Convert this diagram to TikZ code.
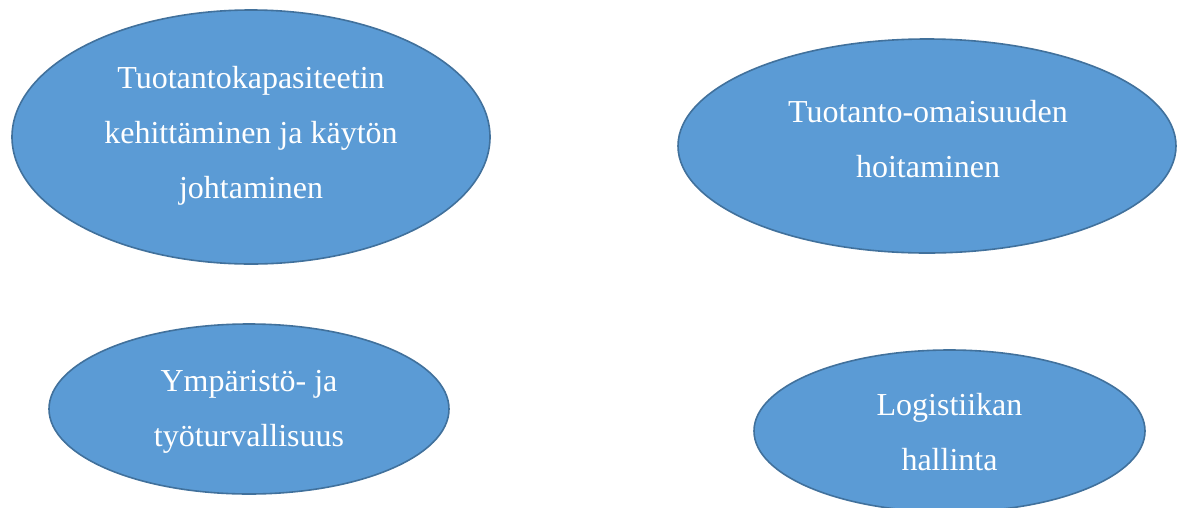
\documentclass[tikz,border=0pt]{standalone}
\usepackage{fontspec}
\setmainfont{Liberation Serif}
\usetikzlibrary{shapes.geometric}
\definecolor{blobfill}{HTML}{5B9BD5}
\definecolor{blobline}{HTML}{41719C}
\begin{document}
\begin{tikzpicture}[x=1pt,y=-1pt,
  blob/.style={ellipse, draw=blobline, fill=blobfill, line width=1.6pt, inner sep=0pt, outer sep=0pt},
  caption/.style={text=white, align=center, inner sep=0pt, font=\fontsize{32}{55}\selectfont}]
\clip (0,0) rectangle (1178,507);
\fill[white] (0,0) rectangle (1178,507);
% the four areas
\node[blob, minimum width=478pt, minimum height=254pt] (capacity) at (251,137) {};
\node[blob, minimum width=498pt, minimum height=214pt] (assets) at (927,146) {};
\node[blob, minimum width=400pt, minimum height=170pt] (safety) at (249,409) {};
\node[blob, minimum width=391pt, minimum height=162pt] (logistics) at (949.5,431) {};
% their labels
\node[caption] (capacitytext) at (251,136) {Tuotantokapasiteetin\\kehittäminen ja käytön\\johtaminen};
\node[caption] (assetstext) at (928,139) {Tuotanto-omaisuuden\\hoitaminen};
\node[caption] (safetytext) at (249,412) {Ympäristö- ja\\työturvallisuus};
\node[caption] (logisticstext) at (949.5,432) {Logistiikan\\hallinta};
\end{tikzpicture}
\end{document}
